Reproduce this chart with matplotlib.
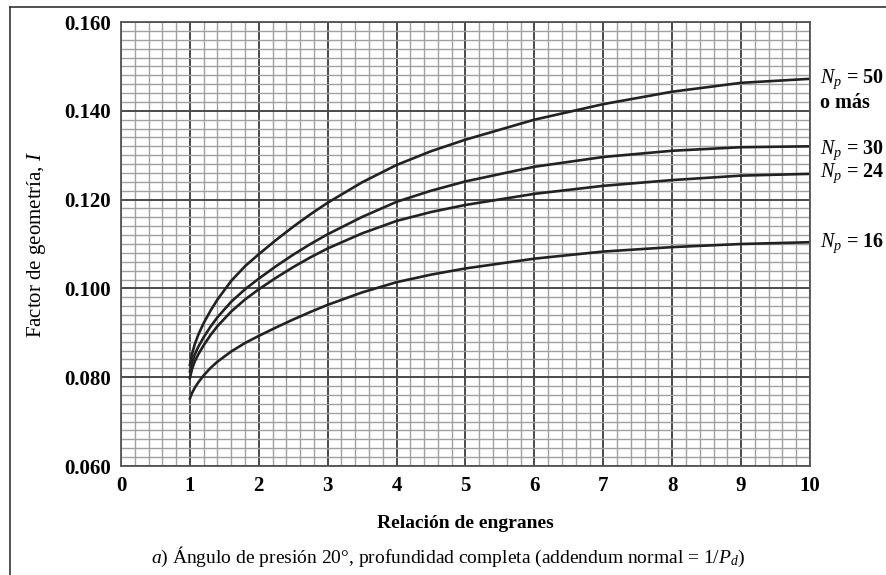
import numpy as np
import matplotlib
matplotlib.use('Agg')
import matplotlib.pyplot as plt
from matplotlib.lines import Line2D

plt.rcParams['font.family'] = ['Liberation Serif', 'DejaVu Serif']
plt.rcParams['mathtext.fontset'] = 'custom'
plt.rcParams['mathtext.rm'] = 'Liberation Serif:bold'
plt.rcParams['mathtext.it'] = 'Liberation Serif:italic:bold'
plt.rcParams['mathtext.bf'] = 'Liberation Serif:bold'

# relacion de engranes
ratio = [1.0, 1.03, 1.07, 1.12, 1.2, 1.3, 1.4, 1.6, 1.8, 2.0, 2.25, 2.5, 2.75, 3.0,
         3.5, 4.0, 4.5, 5.0, 6.0, 7.0, 8.0, 9.0, 10.0]

I_np50 = [0.0828, 0.0852, 0.0874, 0.0895, 0.0922, 0.0950, 0.0975, 0.1017, 0.1050, 0.1077,
          0.1109, 0.1139, 0.1167, 0.1193, 0.1239, 0.1278, 0.1309, 0.1335, 0.1380, 0.1415,
          0.1443, 0.1463, 0.1472]
I_np30 = [0.0813, 0.0833, 0.0851, 0.0868, 0.0890, 0.0914, 0.0935, 0.0970, 0.0998, 0.1022,
          0.1050, 0.1076, 0.1100, 0.1122, 0.1161, 0.1195, 0.1220, 0.1241, 0.1274, 0.1296,
          0.1310, 0.1318, 0.1320]
I_np24 = [0.0798, 0.0818, 0.0835, 0.0851, 0.0872, 0.0895, 0.0915, 0.0948, 0.0975, 0.0998,
          0.1024, 0.1048, 0.1070, 0.1090, 0.1124, 0.1152, 0.1172, 0.1188, 0.1213, 0.1231,
          0.1244, 0.1254, 0.1258]
I_np16 = [0.0752, 0.0764, 0.0776, 0.0788, 0.0804, 0.0821, 0.0835, 0.0858, 0.0877, 0.0893,
          0.0912, 0.0930, 0.0947, 0.0963, 0.0991, 0.1014, 0.1031, 0.1045, 0.1067, 0.1083,
          0.1093, 0.1100, 0.1104]

curves = [I_np50, I_np30, I_np24, I_np16]
labels = ['$N_p$ = 50\no más', '$N_p$ = 30', '$N_p$ = 24', '$N_p$ = 16']
label_y = [0.1446, 0.1312, 0.1260, 0.1102]

x_ticks = np.arange(0, 11, 1)
y_ticks = [0.060, 0.080, 0.100, 0.120, 0.140, 0.160]
y_ticklabels = ['0.060', '0.080', '0.100', '0.120', '0.140', '0.160']

fig = plt.figure(figsize=(8.87, 5.75), dpi=100)
ax = fig.add_axes([121/887, 1-466/575, (810-121)/887, (466-22)/575])

ax.set_xlim(0, 10)
ax.set_ylim(0.060, 0.160)
ax.set_xticks(x_ticks)
ax.set_xticks(np.arange(0, 10.01, 0.2), minor=True)
ax.set_yticks(y_ticks)
ax.set_yticks(np.arange(0.060, 0.1601, 0.002), minor=True)
ax.set_yticklabels(y_ticklabels)
ax.grid(which='minor', color='#a0a0a0', lw=1.0)
ax.grid(which='major', color='#4a4a4a', lw=1.4)
ax.set_axisbelow(True)
ax.tick_params(which='both', length=0, labelsize=15, pad=7)
for lab in ax.get_xticklabels() + ax.get_yticklabels():
    lab.set_fontweight('bold')
for s in ax.spines.values():
    s.set_color('#555555')
    s.set_linewidth(1.3)

for yv in curves:
    ax.plot(ratio, yv, color='#222222', lw=1.9, solid_joinstyle='round')

for ly, lab in zip(label_y, labels):
    ax.text(10.15, ly, lab, fontsize=14.5, fontweight='bold', va='center', ha='left',
            linespacing=1.1, clip_on=False)

ax.set_ylabel('Factor de geometría, $\\mathit{I}$', fontsize=15, labelpad=12)
plt.rcParams['mathtext.it'] = 'Liberation Serif:italic'
ax.set_xlabel('Relación de engranes', fontsize=14, fontweight='bold', labelpad=14)

fig.text(448/887, 1-557/575, '$a$) Ángulo de presión 20°, profundidad completa (addendum normal = 1/$P_d$)',
         fontsize=14, ha='center', va='center')

fig.add_artist(Line2D([10/887, 10/887], [0, 1-7/575], color='#333333', lw=1.2))
fig.add_artist(Line2D([10/887, 1], [1-7/575, 1-7/575], color='#333333', lw=1.2))

fig.savefig('out.png', dpi=100)
